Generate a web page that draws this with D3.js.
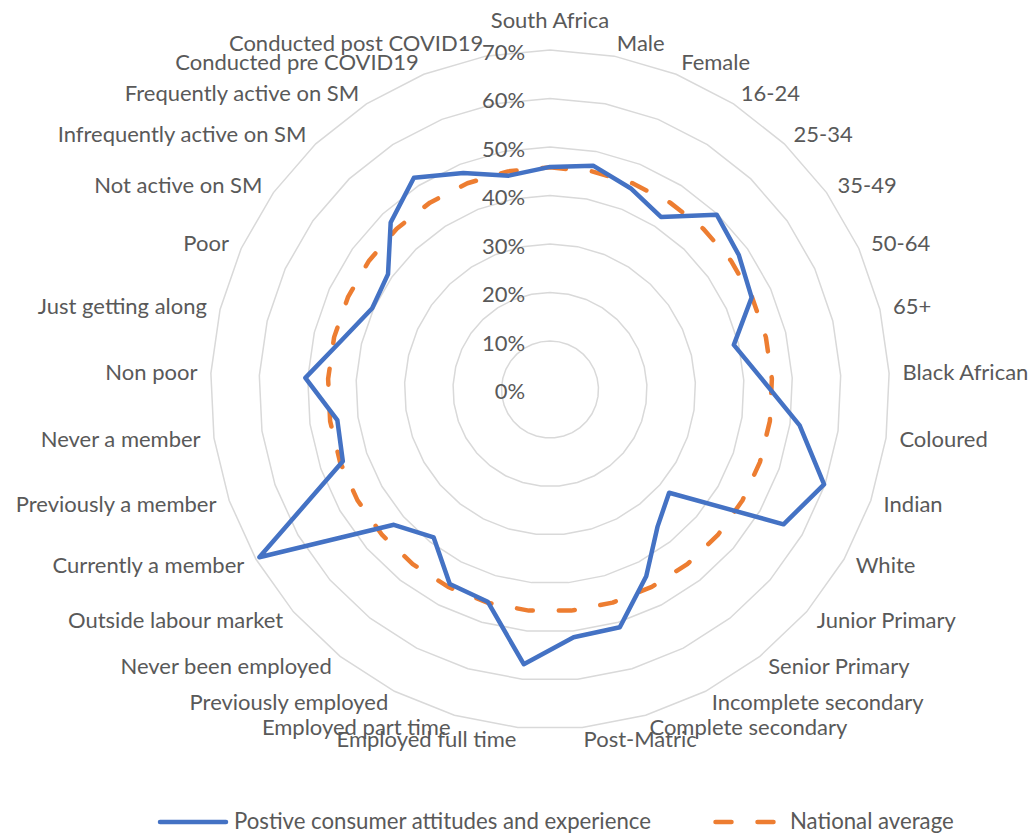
<!DOCTYPE html>
<html>
<head>
<meta charset="utf-8">
<script src="https://cdn.jsdelivr.net/npm/d3@7"></script>
<style>
  html, body { margin: 0; padding: 0; background: #ffffff; }
  svg { display: block; }
</style>
</head>
<body>
<svg id="chart" width="1030" height="834"></svg>
<script>
const categories = [
  "South Africa", "Male", "Female", "16-24", "25-34", "35-49", "50-64", "65+",
  "Black African", "Coloured", "Indian", "White",
  "Junior Primary", "Senior Primary", "Incomplete secondary", "Complete secondary", "Post-Matric",
  "Employed full time", "Employed part time", "Previously employed", "Never been employed", "Outside labour market",
  "Currently a member", "Previously a member", "Never a member",
  "Non poor", "Just getting along", "Poor",
  "Not active on SM", "Infrequently active on SM", "Frequently active on SM",
  "Conducted pre COVID19", "Conducted post COVID19"
];
const positive = [
  0.459, 0.470, 0.447, 0.423, 0.498, 0.478, 0.457, 0.390,
  0.438, 0.520, 0.598, 0.556,
  0.325, 0.359, 0.433, 0.511, 0.513,
  0.569, 0.456, 0.451, 0.388, 0.426,
  0.692, 0.452, 0.443,
  0.505, 0.440, 0.403,
  0.410, 0.476, 0.519,
  0.481, 0.449
];
const national = [
  0.458, 0.458, 0.458, 0.458, 0.458, 0.458, 0.458, 0.458,
  0.458, 0.458, 0.458, 0.458,
  0.458, 0.458, 0.458, 0.458, 0.458,
  0.458, 0.458, 0.458, 0.458, 0.458,
  0.458, 0.458, 0.458,
  0.458, 0.458, 0.458,
  0.458, 0.458, 0.458,
  0.458, 0.458
];
const tickValues = [0, 0.1, 0.2, 0.3, 0.4, 0.5, 0.6, 0.7];
const tickLabels = ["0%", "10%", "20%", "30%", "40%", "50%", "60%", "70%"];
const seriesNames = ["Postive consumer attitudes and experience", "National average"];

const svg = d3.select("#chart");
const fontFamily = "Lato, 'Open Sans', sans-serif";
const textColor = "#595959";

// calibrate font size so text widths match the reference's metrics
const probe = svg.append("text").attr("font-family", fontFamily).attr("font-size", 20).text("Incomplete secondary");
const probeLen = probe.node().getComputedTextLength();
probe.remove();
const fs = 20 * 212 / probeLen;
const fsLegend = 20 * 214 / probeLen;

const cx = 550, cy = 389.5, R = 339.5;
const n = categories.length;
const r = d3.scaleLinear().domain([0, 0.7]).range([0, R]);
const angle = d3.scaleLinear().domain([0, n]).range([0, 2 * Math.PI]);

const g = svg.append("g").attr("transform", `translate(${cx},${cy})`);

// gridlines (polygons)
const gridLine = d3.lineRadial()
  .angle((d, i) => angle(i))
  .radius(d => r(d))
  .curve(d3.curveLinearClosed);

tickValues.filter(v => v > 0).forEach(v => {
  g.append("path")
    .attr("d", gridLine(categories.map(() => v)))
    .attr("fill", "none")
    .attr("stroke", "#d9d9d9")
    .attr("stroke-width", 1.5);
});

// tick labels
g.selectAll("text.tick").data(tickValues).enter().append("text")
  .attr("class", "tick")
  .attr("x", -25)
  .attr("y", d => -r(d) + 1)
  .attr("text-anchor", "end")
  .attr("dominant-baseline", "central")
  .attr("font-family", fontFamily)
  .attr("font-size", fs)
  .attr("fill", textColor)
  .text((d, i) => tickLabels[i]);

// series
const seriesLine = d3.lineRadial()
  .angle((d, i) => angle(i))
  .radius(d => r(d))
  .curve(d3.curveLinearClosed);

g.append("path")
  .attr("d", seriesLine(national))
  .attr("fill", "none")
  .attr("stroke", "#ED7D31")
  .attr("stroke-width", 4.5)
  .attr("stroke-dasharray", "16,26")
  .attr("stroke-linecap", "round")
  .attr("stroke-linejoin", "round");

g.append("path")
  .attr("d", seriesLine(positive))
  .attr("fill", "none")
  .attr("stroke", "#4472C4")
  .attr("stroke-width", 4.5)
  .attr("stroke-linejoin", "round");

// category labels
const labelRx = 353, labelRy = 352;
g.selectAll("text.cat").data(categories).enter().append("text")
  .attr("class", "cat")
  .attr("x", (d, i) => labelRx * Math.sin(angle(i)))
  .attr("y", (d, i) => i === 0 ? -labelRy - 18 : -labelRy * Math.cos(angle(i)) - 1)
  .attr("text-anchor", (d, i) => {
    const s = Math.sin(angle(i));
    return Math.abs(s) < 0.01 ? "middle" : (s > 0 ? "start" : "end");
  })
  .attr("dominant-baseline", "central")
  .attr("font-family", fontFamily)
  .attr("font-size", fs)
  .attr("fill", textColor)
  .text(d => d);

// legend
const ly = 822;
const leg = svg.append("g");
leg.append("line")
  .attr("x1", 160).attr("x2", 226).attr("y1", ly).attr("y2", ly)
  .attr("stroke", "#4472C4").attr("stroke-width", 4.5).attr("stroke-linecap", "round");
leg.append("text")
  .attr("x", 234).attr("y", ly - 2)
  .attr("dominant-baseline", "central")
  .attr("font-family", fontFamily).attr("font-size", fsLegend).attr("fill", textColor)
  .text(seriesNames[0]);
leg.append("line")
  .attr("x1", 715.5).attr("x2", 780).attr("y1", ly).attr("y2", ly)
  .attr("stroke", "#ED7D31").attr("stroke-width", 4.5)
  .attr("stroke-dasharray", "16,26").attr("stroke-linecap", "round");
leg.append("text")
  .attr("x", 790).attr("y", ly - 2)
  .attr("dominant-baseline", "central")
  .attr("font-family", fontFamily).attr("font-size", fsLegend).attr("fill", textColor)
  .text(seriesNames[1]);
</script>
</body>
</html>
